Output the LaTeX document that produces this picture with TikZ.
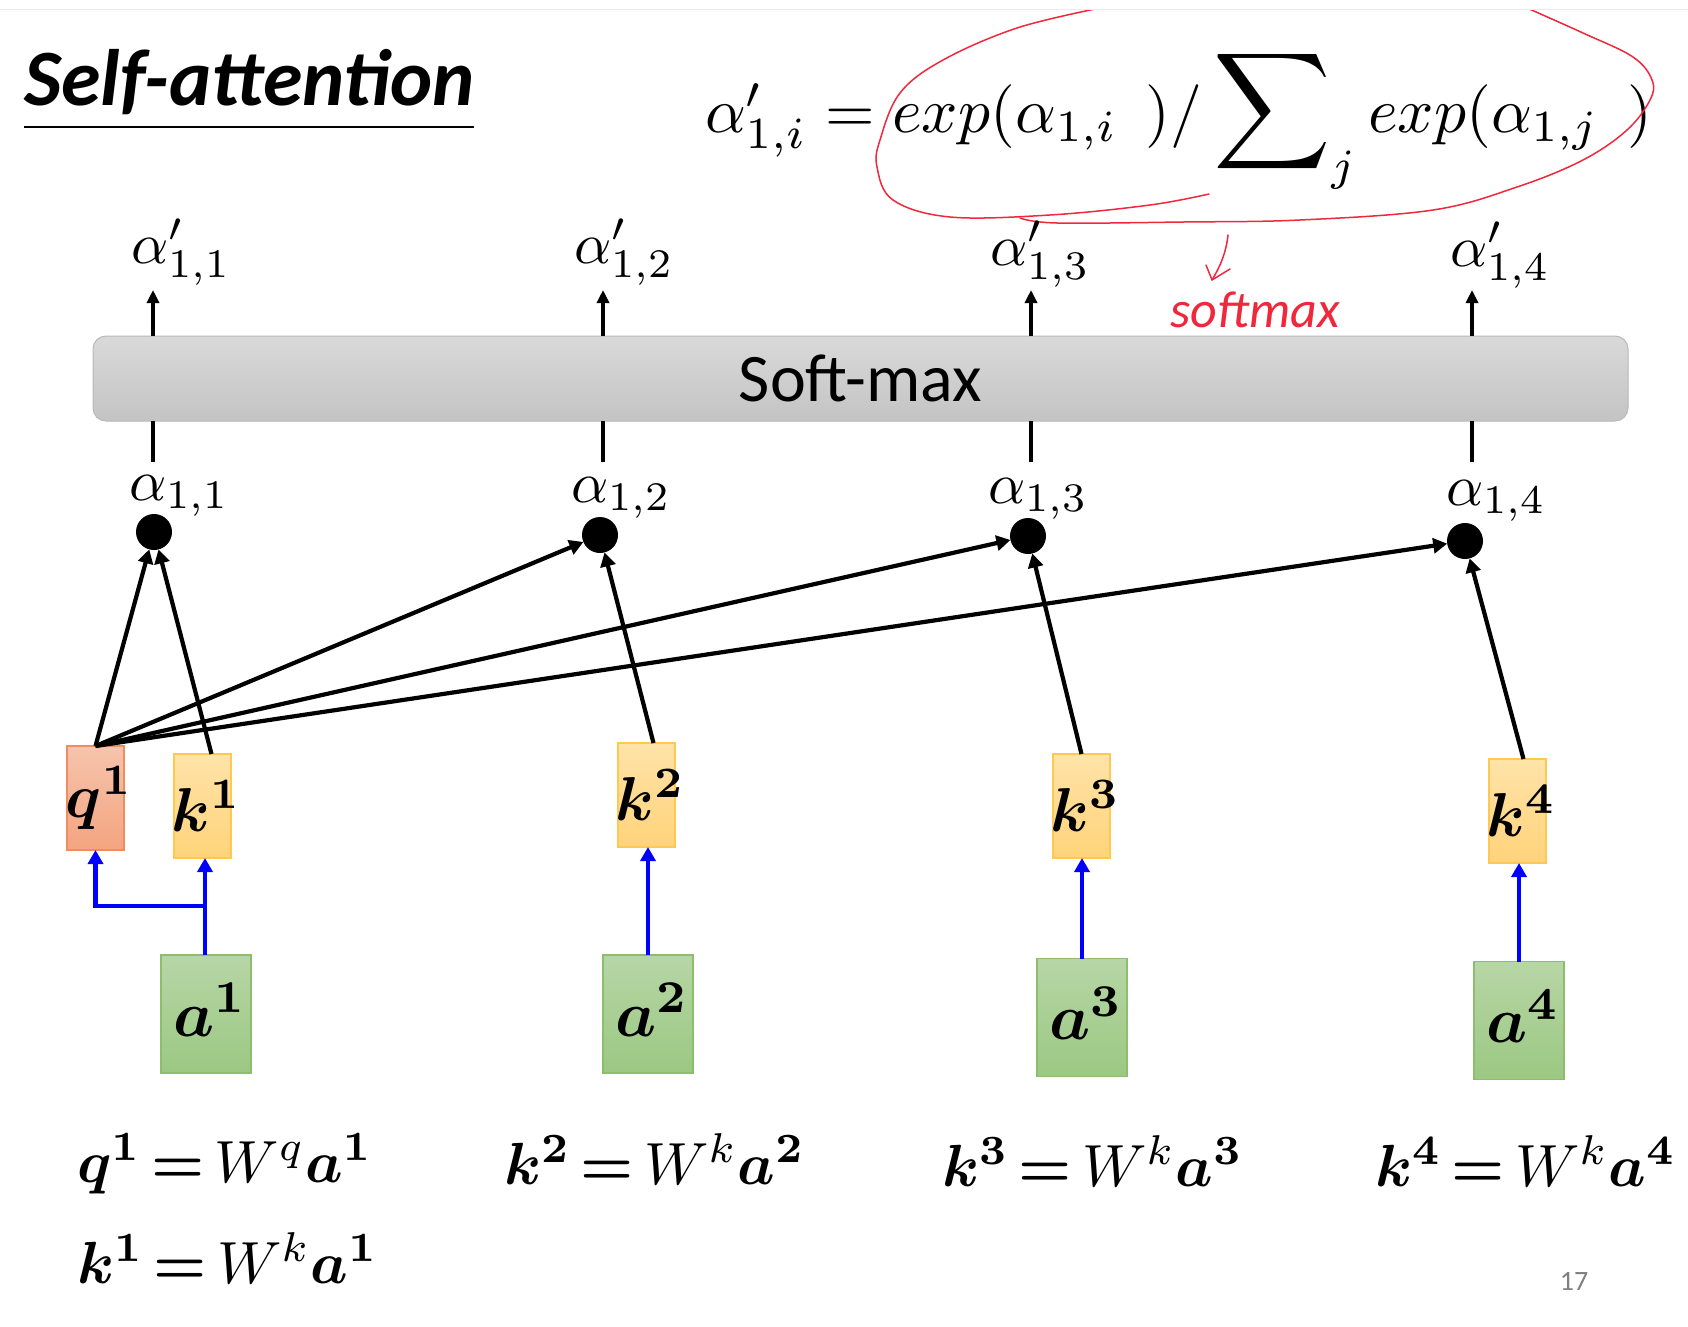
\documentclass[tikz,border=0pt]{standalone}
\usepackage{amsmath,bm}
\usepackage[no-math]{fontspec}
\setmainfont{Carlito}
\usepackage{graphicx}
\usetikzlibrary{arrows.meta,calc}
\definecolor{qtop}{RGB}{246,196,172}
\definecolor{qbot}{RGB}{244,164,128}
\definecolor{qborder}{RGB}{240,140,95}
\definecolor{ktop}{RGB}{255,227,168}
\definecolor{kbot}{RGB}{255,211,122}
\definecolor{kborder}{RGB}{255,200,80}
\definecolor{atop}{RGB}{183,214,166}
\definecolor{abot}{RGB}{155,200,130}
\definecolor{aborder}{RGB}{140,190,110}
\definecolor{bartop}{RGB}{217,217,217}
\definecolor{barbot}{RGB}{196,196,196}
\definecolor{barborder}{RGB}{185,185,185}
\definecolor{inkred}{RGB}{240,40,60}
\newcommand{\MZ}[2]{\scalebox{#1}{$#2$}}
\newcommand{\EQ}[3]{\scalebox{5.95}{$\bm{#1^{#3}}\mskip3mu{\bm{=}}\mskip3mu W^{#2}\bm{a^{#3}}$}}
\begin{document}
\begin{tikzpicture}[x=1pt,y=-1pt,
  every node/.style={inner sep=0pt, outer sep=0pt},
  bx/.style={draw, line width=1.2pt, minimum width=57pt, minimum height=104pt},
  qbx/.style={bx, draw=qborder, top color=qtop, bottom color=qbot},
  kbx/.style={bx, draw=kborder, top color=ktop, bottom color=kbot},
  abx/.style={bx, minimum width=90pt, minimum height=118pt, draw=aborder, top color=atop, bottom color=abot},
  adot/.style={circle, fill=black, minimum size=36pt},
  blk/.style={line width=4.2pt, -{Triangle[width=15pt,length=14pt]}},
  upar/.style={line width=3.4pt, -{Triangle[width=12pt,length=13pt]}},
  stub/.style={line width=3.4pt},
  blu/.style={blue, line width=4.5pt, -{Triangle[width=15pt,length=14pt]}},
  ink/.style={inkred, line width=1.5pt, line cap=round, line join=round},
  lbl/.style={anchor=base west}
]
\useasboundingbox (0,0) rectangle (1688,1326);
\fill[white] (0,0) rectangle (1688,1326);
\draw[black!8, line width=1pt] (0,9) -- (1688,9);

% title
\node[lbl, font=\fontsize{80}{92}\selectfont\bfseries\itshape] (title) at (24,105) {Self-attention};
\draw[line width=2.5pt] (24,127) -- (474,127);

% formula
\node[lbl] (formula) at (705,132) {\resizebox{947pt}{!}{$\alpha'_{1,i} = exp(\alpha_{1,i}\;\,)/\mathop{\scalebox{1.28}{$\displaystyle\sum$}}\nolimits_{j} exp(\alpha_{1,j}\;\,)$}};

% red annotation
\begin{scope}
\clip (0,10) rectangle (1688,1326);
\draw[ink] plot[smooth, tension=0.6] coordinates {(1209,194) (1150,205) (1050,215) (950,217) (893,200) (877,167) (880,140) (900,93) (943,60) (1017,28) (1100,8)};
\draw[ink] plot[smooth, tension=0.6] coordinates {(1020,218) (1057,223) (1183,222) (1300,220) (1433,210) (1517,187) (1583,160) (1627,130) (1650,100) (1652,80) (1633,57) (1583,33) (1527,8)};
\end{scope}
\draw[ink] (1228,235) .. controls (1226,255) and (1218,270) .. (1212,280);
\draw[ink] (1206,265) -- (1212,280) -- (1230,269);
\node[inkred, font=\fontsize{52}{60}\selectfont\itshape] (note) at (1255,310) {softmax};

% soft-max bar
\node[draw=barborder, line width=1pt, rounded corners=13pt, top color=bartop, bottom color=barbot,
      minimum width=1535pt, minimum height=85pt, font=\fontsize{68}{80}\selectfont] (sm) at (860.5,378.5) {Soft-max};

% alpha' labels
\node[lbl] (ap1) at (131,263) {\MZ{5.8}{\alpha'_{1,1}}};
\node[lbl] (ap2) at (574,263) {\MZ{5.8}{\alpha'_{1,2}}};
\node[lbl] (ap3) at (990,265) {\MZ{5.8}{\alpha'_{1,3}}};
\node[lbl] (ap4) at (1450,266) {\MZ{5.8}{\alpha'_{1,4}}};

\coordinate (u1) at (153,290);
\coordinate (u2) at (603,290);
\coordinate (u3) at (1031,290);
\coordinate (u4) at (1472,290);
\foreach \i in {1,...,4} \draw[upar] (sm.north -| u\i) -- (u\i);

\coordinate (l1) at (153,462);
\coordinate (l2) at (603,462);
\coordinate (l3) at (1031,462);
\coordinate (l4) at (1472,462);
\foreach \i in {1,...,4} \draw[stub] (sm.south -| l\i) -- (l\i);

% alpha labels
\node[lbl] (al1) at (129,500) {\MZ{5.8}{\alpha_{1,1}}};
\node[lbl] (al2) at (571,502) {\MZ{5.8}{\alpha_{1,2}}};
\node[lbl] (al3) at (988,503) {\MZ{5.8}{\alpha_{1,3}}};
\node[lbl] (al4) at (1446,505) {\MZ{5.8}{\alpha_{1,4}}};

% dots
\node[adot] (d1) at (154,532) {};
\node[adot] (d2) at (600,535) {};
\node[adot] (d3) at (1028,536) {};
\node[adot] (d4) at (1465,541) {};

% q, k boxes
\node[qbx, label={[xshift=4pt]center:\MZ{6.2}{\bm{q^1}}}] (q1) at (95.5,798) {};
\node[kbx, label={[xshift=4pt]center:\MZ{6.2}{\bm{k^1}}}] (k1) at (202.5,806) {};
\node[kbx, label={[xshift=4pt]center:\MZ{6.2}{\bm{k^2}}}] (k2) at (646.5,795) {};
\node[kbx, label={[xshift=4pt]center:\MZ{6.2}{\bm{k^3}}}] (k3) at (1081.5,806) {};
\node[kbx, label={[xshift=4pt]center:\MZ{6.2}{\bm{k^4}}}] (k4) at (1517.5,811) {};

% a boxes
\node[abx, label={[xshift=4pt,yshift=4pt]center:\MZ{6.5}{\bm{a^1}}}] (a1) at (206,1014) {};
\node[abx, label={[xshift=4pt,yshift=4pt]center:\MZ{6.5}{\bm{a^2}}}] (a2) at (648,1014) {};
\node[abx, label={[xshift=4pt,yshift=4pt]center:\MZ{6.5}{\bm{a^3}}}] (a3) at (1082,1017.5) {};
\node[abx, label={[xshift=4pt,yshift=4pt]center:\MZ{6.5}{\bm{a^4}}}] (a4) at (1519,1020.5) {};

% black arrows
\draw[blk] (q1.north) -- (d1);
\draw[blk] (q1.north) -- (d2);
\draw[blk] (q1.north) -- (d3);
\draw[blk] (q1.north) -- (d4);
\draw[blk] ([xshift=9pt]k1.north) -- (d1);
\draw[blk] ([xshift=7pt]k2.north) -- (d2);
\draw[blk] (k3.north) -- (d3);
\draw[blk] ([xshift=6pt]k4.north) -- (d4);

% blue arrows
\coordinate (br) at (205,906);
\draw[blu] ([xshift=-1pt]a1.north) -- ([xshift=-1pt]a1.north |- k1.south);
\draw[blu] (br) -| (q1.south);
\draw[blu] (a2.north) -- (a2.north |- k2.south);
\draw[blu] (a3.north) -- (a3.north |- k3.south);
\draw[blu] (a4.north) -- (a4.north |- k4.south);

% equations
\node[lbl] (e1) at (77,1182) {\EQ{q}{q}{1}};
\node[lbl] (e2) at (504,1184) {\EQ{k}{k}{2}};
\node[lbl] (e3) at (942,1186) {\EQ{k}{k}{3}};
\node[lbl] (e4) at (1375,1186) {\EQ{k}{k}{4}};
\node[lbl] (e5) at (77,1283) {\EQ{k}{k}{1}};

\node[text=black!50, font=\fontsize{28}{32}\selectfont] (pg) at (1574,1281) {17};
\end{tikzpicture}
\end{document}
